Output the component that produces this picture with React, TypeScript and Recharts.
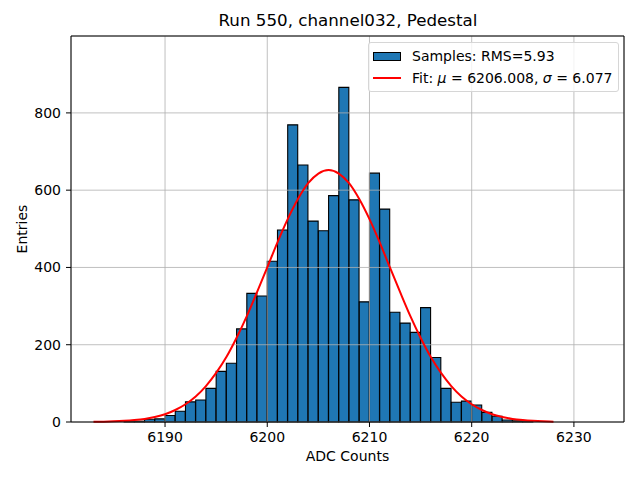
import React from "react";
import { ComposedChart, Bar, Line, XAxis, YAxis, CartesianGrid, Label } from "recharts";

// histogram bins (left edge, width 1 ADC count)
const binEdges = [
  6186, 6187, 6188, 6189, 6190, 6191, 6192, 6193, 6194, 6195,
  6196, 6197, 6198, 6199, 6200, 6201, 6202, 6203, 6204, 6205,
  6206, 6207, 6208, 6209, 6210, 6211, 6212, 6213, 6214, 6215,
  6216, 6217, 6218, 6219, 6220, 6221, 6222, 6223, 6224, 6225,
];
const binCounts = [
  1, 2, 7, 8, 17, 28, 52, 57, 87, 131,
  152, 241, 333, 326, 416, 497, 769, 665, 520, 495,
  586, 866, 575, 311, 644, 551, 284, 256, 232, 296,
  167, 87, 51, 54, 44, 25, 15, 5, 3, 1,
];

// gaussian fit curve
const fitX = [
  6183, 6184, 6185, 6186, 6187, 6188, 6189, 6190, 6191, 6192,
  6193, 6194, 6195, 6196, 6197, 6198, 6199, 6200, 6201, 6202,
  6203, 6204, 6205, 6206, 6207, 6208, 6209, 6210, 6211, 6212,
  6213, 6214, 6215, 6216, 6217, 6218, 6219, 6220, 6221, 6222,
  6223, 6224, 6225, 6226, 6227, 6228,
];
const fitY = [
  0.5, 0.9, 1.7, 3, 5, 8, 13, 20, 31, 46,
  66, 93, 127, 168, 218, 274, 336, 400, 465, 525,
  577, 618, 643, 652, 643, 618, 577, 525, 465, 400,
  336, 274, 218, 168, 127, 93, 66, 46, 31, 20,
  13, 8, 5, 3, 1.7, 0.9,
];

const xTicks = [6190, 6200, 6210, 6220, 6230];
const yTicks = [0, 200, 400, 600, 800];
const xDomain = [6180.8, 6234.9];
const yDomain = [0, 999];

const histData = binEdges.map((e, i) => ({ x: e + 0.5, count: binCounts[i] }));
const fitData = fitX.map((x, i) => ({ x, y: fitY[i] }));

const FONT = "'DejaVu Sans', sans-serif";
const tickStyle = { fill: "#000", fontSize: 14, fontFamily: FONT };

const LegendBox = () => (
  <div
    style={{
      position: "absolute",
      left: 368,
      top: 42,
      background: "rgba(255,255,255,0.8)",
      border: "1px solid #d6d6d6",
      borderRadius: 3,
      padding: "2px 6px 2px 4px",
      fontFamily: FONT,
      fontSize: 14,
      color: "#000",
      whiteSpace: "nowrap",
    }}
  >
    <div style={{ display: "flex", alignItems: "center", height: 22 }}>
      <span style={{ width: 28, height: 9, background: "#1f77b4", border: "1px solid #000", boxSizing: "border-box", marginRight: 11 }} />
      <span>Samples: RMS=5.93</span>
    </div>
    <div style={{ display: "flex", alignItems: "center", height: 22 }}>
      <span style={{ width: 28, height: 2, background: "red", marginRight: 11 }} />
      <span>
        Fit: <i>μ</i> = 6206.008, <i>σ</i> = 6.077
      </span>
    </div>
  </div>
);

const EntriesLabel = ({ viewBox }: any) => {
  const x = viewBox.x + 16;
  const y = viewBox.y + viewBox.height / 2;
  return (
    <text x={x} y={y} transform={`rotate(-90, ${x}, ${y})`} textAnchor="middle" fill="#000" fontSize={14} fontFamily={FONT}>
      Entries
    </text>
  );
};

export default function App() {
  return (
    <div style={{ position: "absolute", left: 0, top: 0, width: 640, height: 480, background: "#fff", fontFamily: FONT }}>
      <div style={{ position: "absolute", left: 71, top: 10, width: 554, textAlign: "center", fontSize: 16.7, lineHeight: "20px", color: "#000" }}>
        Run 550, channel032, Pedestal
      </div>
      <ComposedChart
        width={640}
        height={480}
        data={histData}
        margin={{ top: 35, right: 15, bottom: 8, left: 11 }}
        barCategoryGap={0}
        barGap={0}
      >
        <XAxis
          type="number"
          dataKey="x"
          domain={xDomain}
          ticks={xTicks}
          interval={0}
          height={50}
          tick={tickStyle}
          tickSize={5}
          tickMargin={5}
          axisLine={{ stroke: "#000", strokeWidth: 1 }}
          tickLine={{ stroke: "#000", strokeWidth: 1 }}
        >
          <Label value="ADC Counts" position="insideBottom" offset={11} fill="#000" fontSize={14} fontFamily={FONT} />
        </XAxis>
        <XAxis xAxisId="fit" type="number" dataKey="x" domain={xDomain} hide />
        <XAxis
          xAxisId="top"
          orientation="top"
          type="number"
          domain={xDomain}
          height={1}
          tick={false}
          tickLine={false}
          axisLine={{ stroke: "#000", strokeWidth: 1 }}
        />
        <YAxis
          type="number"
          domain={yDomain}
          ticks={yTicks}
          interval={0}
          width={60}
          tick={tickStyle}
          tickSize={5}
          tickMargin={5}
          axisLine={{ stroke: "#000", strokeWidth: 1 }}
          tickLine={{ stroke: "#000", strokeWidth: 1 }}
        >
          <Label content={<EntriesLabel />} />
        </YAxis>
        <YAxis
          yAxisId="right"
          orientation="right"
          type="number"
          domain={yDomain}
          width={1}
          tick={false}
          tickLine={false}
          axisLine={{ stroke: "#000", strokeWidth: 1 }}
        />
        <Bar dataKey="count" fill="#1f77b4" stroke="#000" strokeWidth={1.1} isAnimationActive={false} />
        <CartesianGrid stroke="#b0b0b0" strokeWidth={0.8} zIndex={350} />
        <Line
          xAxisId="fit"
          data={fitData}
          dataKey="y"
          type="monotone"
          stroke="red"
          strokeWidth={2}
          dot={false}
          isAnimationActive={false}
        />
      </ComposedChart>
      <LegendBox />
    </div>
  );
}
